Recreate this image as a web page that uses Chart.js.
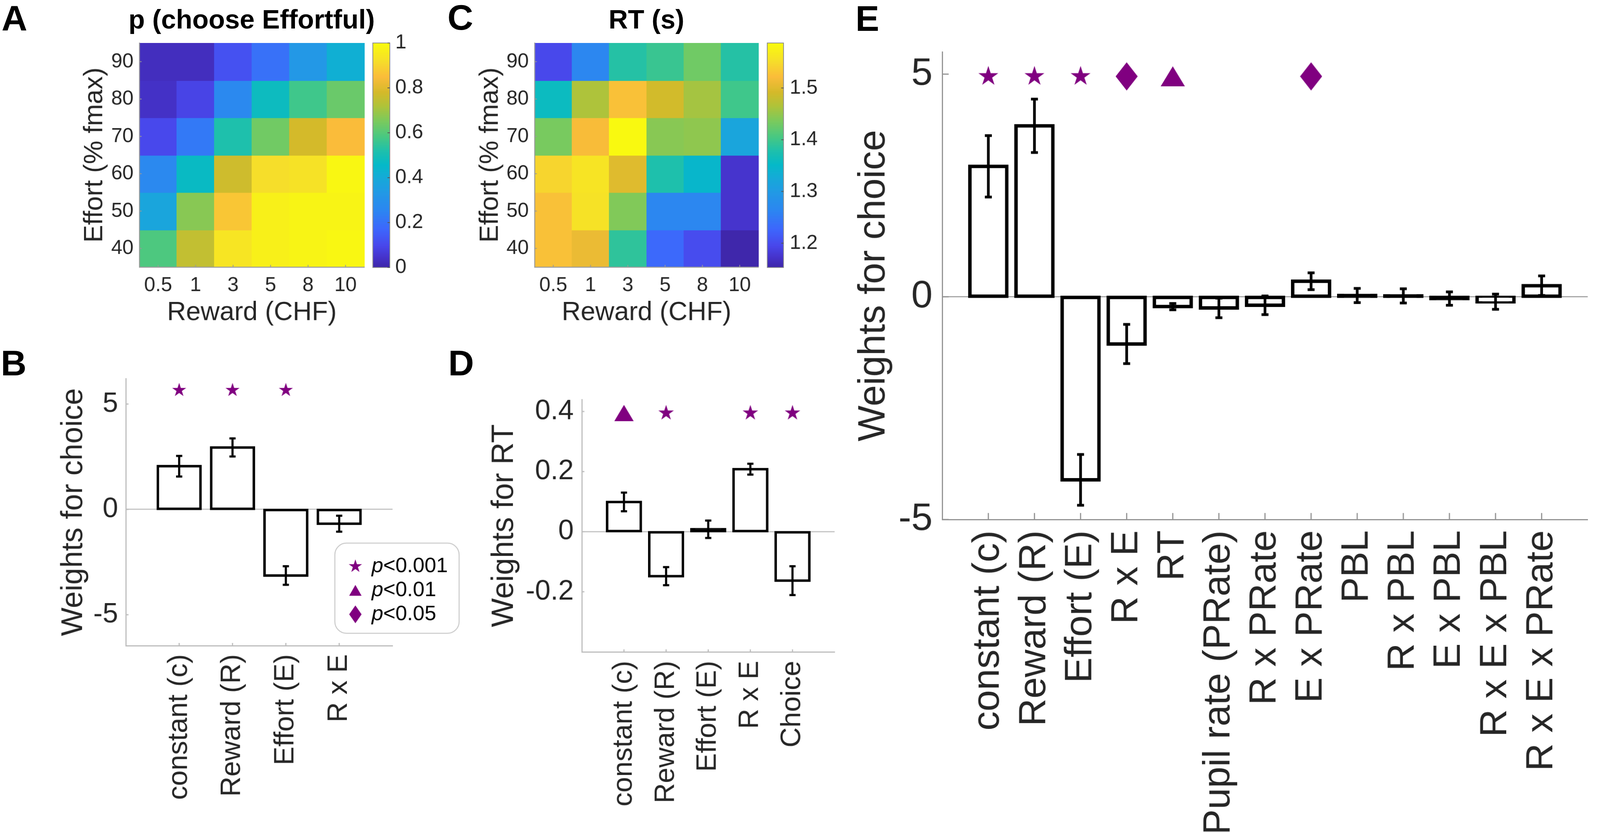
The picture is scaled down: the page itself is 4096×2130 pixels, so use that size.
<!DOCTYPE html>
<html lang="en">
<head>
<meta charset="UTF-8">
<title>Effort choice - weights and heatmaps</title>
<script src="https://cdn.jsdelivr.net/npm/chart.js"></script>
<style>
    * { margin: 0; padding: 0; box-sizing: border-box; }
    body { background: #fff; width: 4096px; height: 2130px; overflow: hidden; font-family: 'Liberation Sans', Arial, Helvetica, sans-serif; }
    /* whole figure is laid out at reference size, then shrunk to the window */
    #fig { position: relative; width: 4130px; height: 2148px; transform: scale(0.991); transform-origin: 0 0; }
    #fig canvas { position: absolute; }
    .letter { position: absolute; font-weight: bold; font-size: 92px; line-height: 1; color: #000; }
    .title { position: absolute; font-weight: bold; font-size: 69px; line-height: 1; color: #000; white-space: nowrap; transform: translateX(-50%); }
</style>
</head>
<body>
<div id="fig">
    <div class="letter" style="left:4px; top:1px;">A</div>
    <div class="letter" style="left:1156px; top:-1px;">C</div>
    <div class="letter" style="left:2px; top:892px;">B</div>
    <div class="letter" style="left:1158px; top:892px;">D</div>
    <div class="letter" style="left:2210px; top:2px;">E</div>
    <div class="title" style="left:650px; top:16px;">p (choose Effortful)</div>
    <div class="title" style="left:1670px; top:16px;">RT (s)</div>
</div>

<script>
    // ---------- data ----------
    const rewardLabels = ['0.5', '1', '3', '5', '8', '10'];
    const effortLevels = [40, 50, 60, 70, 80, 90];

    // A: p(choose effortful), one array per effort level, columns = reward
    const pChoose40 = [0.59, 0.75, 0.94, 0.97, 0.98, 0.99];
    const pChoose50 = [0.38, 0.67, 0.87, 0.97, 0.98, 0.98];
    const pChoose60 = [0.27, 0.47, 0.77, 0.92, 0.93, 0.99];
    const pChoose70 = [0.10, 0.22, 0.52, 0.64, 0.78, 0.85];
    const pChoose80 = [0.04, 0.09, 0.27, 0.48, 0.57, 0.63];
    const pChoose90 = [0.03, 0.03, 0.12, 0.20, 0.33, 0.42];
    const pRange = [0, 1];
    const pTicks = [0, 0.2, 0.4, 0.6, 0.8, 1];

    // C: RT (s)
    const rt40 = [1.526, 1.510, 1.390, 1.230, 1.200, 1.155];
    const rt50 = [1.526, 1.557, 1.440, 1.266, 1.266, 1.175];
    const rt60 = [1.544, 1.560, 1.500, 1.379, 1.348, 1.175];
    const rt70 = [1.435, 1.520, 1.585, 1.444, 1.448, 1.318];
    const rt80 = [1.360, 1.465, 1.526, 1.490, 1.460, 1.400];
    const rt90 = [1.196, 1.266, 1.383, 1.396, 1.430, 1.383];
    const rtRange = [1.153, 1.587];
    const rtTicks = [1.2, 1.3, 1.4, 1.5];

    // B: weights for choice
    const choiceLabels = ['constant (c)', 'Reward (R)', 'Effort (E)', 'R x E'];
    const choiceMean = [2.05, 2.94, -3.14, -0.68];
    const choiceSem = [0.49, 0.43, 0.44, 0.38];
    const choiceSig = ['***', '***', '***', ''];

    // D: weights for RT
    const rtLabels = ['constant (c)', 'Reward (R)', 'Effort (E)', 'R x E', 'Choice'];
    const rtMean = [0.099, -0.148, 0.008, 0.208, -0.163];
    const rtSem = [0.031, 0.030, 0.029, 0.018, 0.048];
    const rtSig = ['**', '***', '', '***', '***'];

    // E: weights for choice, full model
    const fullLabels = ['constant (c)', 'Reward (R)', 'Effort (E)', 'R x E', 'RT', 'Pupil rate (PRate)',
        'R x PRate', 'E x PRate', 'PBL', 'R x PBL', 'E x PBL', 'R x E x PBL', 'R x E x PRate'];
    const fullMean = [2.93, 3.84, -4.11, -1.06, -0.22, -0.25, -0.19, 0.35, 0.03, 0.02, -0.04, -0.11, 0.25];
    const fullSem = [0.69, 0.60, 0.57, 0.44, 0.07, 0.22, 0.21, 0.19, 0.16, 0.16, 0.15, 0.17, 0.22];
    const fullSig = ['***', '***', '***', '*', '**', '', '', '*', '', '', '', '', ''];

    const legendLevels = ['***', '**', '*'];
    const legendText = ['<0.001', '<0.01', '<0.05'];

    // ---------- styling ----------
    const FONT = "'Liberation Sans', Arial, Helvetica, sans-serif";
    Chart.defaults.font.family = FONT;
    Chart.defaults.color = '#262626';
    const purple = '#800080';

    // parula-like colour ramp
    const parulaStops = [
        [0.00, 62, 38, 168], [0.05, 70, 52, 205], [0.10, 72, 72, 236], [0.17, 62, 102, 252],
        [0.25, 45, 132, 242], [0.33, 35, 152, 230], [0.40, 22, 170, 216], [0.46, 5, 185, 200],
        [0.52, 30, 192, 172], [0.58, 70, 200, 132], [0.65, 120, 202, 95], [0.72, 175, 195, 58],
        [0.78, 212, 186, 42], [0.85, 250, 188, 58], [0.92, 246, 222, 42], [1.00, 249, 251, 14]
    ];
    function parula(t) {
        t = Math.max(0, Math.min(1, t));
        for (let i = 1; i < parulaStops.length; i++) {
            const a = parulaStops[i - 1], b = parulaStops[i];
            if (t <= b[0]) {
                const f = (t - a[0]) / (b[0] - a[0]);
                return 'rgb(' + [1, 2, 3].map(k => Math.round(a[k] + f * (b[k] - a[k]))).join(',') + ')';
            }
        }
        return 'rgb(249,251,14)';
    }

    // marker images (MATLAB-like pentagram, triangle, diamond)
    function markCanvas(w, h, draw) {
        const c = document.createElement('canvas');
        c.width = w; c.height = h;
        const g = c.getContext('2d');
        g.fillStyle = purple;
        g.beginPath();
        draw(g, w, h);
        g.closePath();
        g.fill();
        return c;
    }
    function star(R) {
        const s = Math.ceil(2 * R) + 2;
        return markCanvas(s, s, (g) => {
            for (let k = 0; k < 10; k++) {
                const r = k % 2 ? R * 0.382 : R;
                const ang = -Math.PI / 2 + k * Math.PI / 5;
                const px = s / 2 + r * Math.cos(ang), py = s / 2 + r * Math.sin(ang);
                k ? g.lineTo(px, py) : g.moveTo(px, py);
            }
        });
    }
    function triangle(w, h) {
        return markCanvas(w, h, (g) => { g.moveTo(w / 2, 0); g.lineTo(w, h); g.lineTo(0, h); });
    }
    function diamond(w, h) {
        return markCanvas(w, h, (g) => { g.moveTo(w / 2, 0); g.lineTo(w, h / 2); g.lineTo(w / 2, h); g.lineTo(0, h / 2); });
    }

    // ---------- helpers ----------
    const fig = document.getElementById('fig');
    function addCanvas(x, y, w, h) {
        const c = document.createElement('canvas');
        c.width = w; c.height = h;
        c.style.left = x + 'px'; c.style.top = y + 'px';
        c.style.width = w + 'px'; c.style.height = h + 'px';
        fig.appendChild(c);
        return c;
    }

    // small ticks pointing into the plot, like MATLAB
    function inwardTicks(color, width) {
        return {
            id: 'inwardTicks',
            afterDraw(chart) {
                const {ctx, chartArea: a, scales: {x, y}} = chart;
                const len = 0.01 * Math.max(a.right - a.left, a.bottom - a.top);
                ctx.save();
                ctx.strokeStyle = color;
                ctx.lineWidth = width;
                ctx.beginPath();
                x.ticks.forEach(t => {
                    const px = x.getPixelForValue(t.value);
                    ctx.moveTo(px, a.bottom); ctx.lineTo(px, a.bottom - len);
                });
                y.ticks.forEach(t => {
                    const py = y.getPixelForValue(t.value);
                    ctx.moveTo(a.left, py); ctx.lineTo(a.left + len, py);
                });
                ctx.stroke();
                ctx.restore();
            }
        };
    }

    const heatAxis = '#9a9a9a';
    const heatTick = 52, heatLabel = 68;

    function heatmap(canvas, rows, range, L, xTitle, yTitle) {
        const cells = [];
        rows.forEach((row, r) => row.forEach((v, c) => cells.push({x: c + 1, y: effortLevels[r], v: v})));
        const half = (effortLevels[1] - effortLevels[0]) / 2;
        const heatCells = {
            id: 'heatCells',
            beforeDatasetsDraw(chart) {
                const {ctx, scales: {x, y}} = chart;
                chart.data.datasets[0].data.forEach(p => {
                    const x0 = x.getPixelForValue(p.x - 0.5), x1 = x.getPixelForValue(p.x + 0.5);
                    const y0 = y.getPixelForValue(p.y + half), y1 = y.getPixelForValue(p.y - half);
                    ctx.fillStyle = parula((p.v - range[0]) / (range[1] - range[0]));
                    ctx.fillRect(Math.floor(x0), Math.floor(y0), Math.ceil(x1 - x0) + 1, Math.ceil(y1 - y0) + 1);
                });
            }
        };
        return new Chart(canvas, {
            type: 'scatter',
            data: { datasets: [{ data: cells, pointRadius: 0, pointHoverRadius: 0 }] },
            options: {
                responsive: false, animation: false, devicePixelRatio: 1, events: [],
                layout: { padding: L.pad },
                plugins: { legend: { display: false }, tooltip: { enabled: false } },
                scales: {
                    x: {
                        type: 'linear', min: 0.5, max: rewardLabels.length + 0.5,
                        afterBuildTicks: s => { s.ticks = rewardLabels.map((t, i) => ({ value: i + 1 })); },
                        afterFit: s => { s.height = L.xH; },
                        ticks: { callback: v => rewardLabels[v - 1], font: { size: heatTick }, padding: L.xTickPad, minRotation: 0, maxRotation: 0, autoSkip: false },
                        grid: { display: false, drawTicks: false, tickLength: 0 },
                        border: { display: true, color: heatAxis, width: 2.5, z: 1 },
                        title: { display: true, text: xTitle, font: { size: heatLabel }, padding: { top: 0, bottom: L.xTitlePad } }
                    },
                    y: {
                        type: 'linear', min: effortLevels[0] - half, max: effortLevels[effortLevels.length - 1] + half,
                        afterBuildTicks: s => { s.ticks = effortLevels.map(v => ({ value: v })); },
                        afterFit: s => { s.width = L.yW; },
                        ticks: { font: { size: heatTick }, padding: L.yTickPad },
                        grid: { display: false, drawTicks: false, tickLength: 0 },
                        border: { display: true, color: heatAxis, width: 2.5, z: 1 },
                        title: { display: true, text: yTitle, font: { size: heatLabel }, padding: { top: L.yTitlePad, bottom: 0 } }
                    }
                }
            },
            plugins: [heatCells, inwardTicks(heatAxis, 2)]
        });
    }

    function colorbar(canvas, range, ticks, L, fmt) {
        const ramp = {
            id: 'ramp',
            beforeDatasetsDraw(chart) {
                const {ctx, chartArea: a, scales: {y}} = chart;
                const n = 240;
                for (let i = 0; i < n; i++) {
                    const v0 = range[0] + (range[1] - range[0]) * i / n;
                    const v1 = range[0] + (range[1] - range[0]) * (i + 1) / n;
                    const p0 = y.getPixelForValue(v0), p1 = y.getPixelForValue(v1);
                    ctx.fillStyle = parula((i + 0.5) / n);
                    ctx.fillRect(a.left, p1, a.right - a.left, p0 - p1 + 1);
                }
                ctx.save();
                ctx.strokeStyle = '#8c8c8c';
                ctx.lineWidth = 2;
                ctx.strokeRect(a.left, a.top, a.right - a.left, a.bottom - a.top);
                ctx.strokeStyle = '#555';
                ctx.beginPath();
                y.ticks.forEach(t => {
                    const py = y.getPixelForValue(t.value);
                    ctx.moveTo(a.right, py); ctx.lineTo(a.right - 6, py);
                });
                ctx.stroke();
                ctx.restore();
            }
        };
        return new Chart(canvas, {
            type: 'scatter',
            data: { datasets: [] },
            options: {
                responsive: false, animation: false, devicePixelRatio: 1, events: [],
                layout: { padding: L.pad },
                plugins: { legend: { display: false }, tooltip: { enabled: false } },
                scales: {
                    x: { display: false, min: 0, max: 1 },
                    y: {
                        position: 'right', min: range[0], max: range[1],
                        afterBuildTicks: s => { s.ticks = ticks.map(v => ({ value: v })); },
                        afterFit: s => { s.width = L.yW; },
                        ticks: { font: { size: heatTick }, padding: L.tickPad, callback: fmt },
                        grid: { display: false, drawTicks: false, tickLength: 0 },
                        border: { display: false }
                    }
                }
            },
            plugins: [ramp]
        });
    }

    function barPanel(canvas, labels, means, sems, sig, yRange, yTicks, L, S, extraPlugins) {
        const marks = [];
        sig.forEach((s, i) => { if (s) marks.push({ x: i + 1, y: S.markY, s: s }); });
        const errorBars = {
            id: 'errorBars',
            afterDatasetsDraw(chart) {
                const {ctx, scales: {x, y}} = chart;
                ctx.save();
                ctx.strokeStyle = '#000';
                ctx.lineWidth = S.errLine;
                ctx.beginPath();
                means.forEach((m, i) => {
                    const px = x.getPixelForValue(i + 1);
                    const top = y.getPixelForValue(m + sems[i]), bot = y.getPixelForValue(m - sems[i]);
                    ctx.moveTo(px, top); ctx.lineTo(px, bot);
                    ctx.moveTo(px - S.cap, top); ctx.lineTo(px + S.cap, top);
                    ctx.moveTo(px - S.cap, bot); ctx.lineTo(px + S.cap, bot);
                });
                ctx.stroke();
                ctx.restore();
            }
        };
        return new Chart(canvas, {
            type: 'bar',
            data: {
                datasets: [
                    {
                        type: 'bar',
                        data: means.map((m, i) => ({ x: i + 1, y: m })),
                        // very short bars end up as solid black, like the thick MATLAB edge
                        backgroundColor: c => {
                            const y = c.chart.scales.y;
                            const v = c.parsed ? c.parsed.y : 1e9;
                            return Math.abs(y.getPixelForValue(v) - y.getPixelForValue(0)) < S.barLine ? '#000' : '#fff';
                        },
                        borderColor: '#000',
                        borderWidth: S.barLine,
                        borderSkipped: false,
                        inflateAmount: S.barLine / 2,
                        barPercentage: 0.8,
                        categoryPercentage: 1,
                        order: 2
                    },
                    {
                        type: 'scatter',
                        data: marks,
                        pointStyle: c => (c.raw && S.markers[c.raw.s]) || 'circle',
                        pointRadius: 10,
                        pointHoverRadius: 10,
                        clip: false,
                        order: 1
                    }
                ]
            },
            options: {
                responsive: false, animation: false, devicePixelRatio: 1, events: [],
                layout: { padding: L.pad },
                plugins: { legend: { display: false }, tooltip: { enabled: false } },
                scales: {
                    x: {
                        type: 'linear', min: 0, max: labels.length + 1, offset: false,
                        afterBuildTicks: s => { s.ticks = labels.map((t, i) => ({ value: i + 1 })); },
                        afterFit: s => { s.height = L.xH; },
                        ticks: { callback: v => labels[v - 1], font: { size: S.tick }, padding: L.xTickPad, minRotation: 90, maxRotation: 90, autoSkip: false },
                        grid: { display: false, drawTicks: false, tickLength: 0 },
                        border: { display: true, color: S.axis, width: 3 }
                    },
                    y: {
                        min: yRange[0], max: yRange[1],
                        afterBuildTicks: s => { s.ticks = yTicks.map(v => ({ value: v })); },
                        afterFit: s => { s.width = L.yW; },
                        ticks: { font: { size: S.tick }, padding: L.yTickPad, callback: v => String(v) },
                        grid: {
                            drawTicks: false, tickLength: 0, lineWidth: 3,
                            color: c => (c.tick && c.tick.value === 0) ? S.zero : 'rgba(0,0,0,0)'
                        },
                        border: { display: true, color: S.axis, width: 3 },
                        title: { display: true, text: S.yTitle, font: { size: S.label }, padding: { top: L.yTitlePad, bottom: 0 } }
                    }
                }
            },
            plugins: [errorBars, inwardTicks(S.axis, 3)].concat(extraPlugins || [])
        });
    }

    // ---------- heatmaps ----------
    heatmap(addCanvas(180, 50, 780, 810),
        [pChoose40, pChoose50, pChoose60, pChoose70, pChoose80, pChoose90], pRange,
        { pad: { left: 0, top: 61, right: 19, bottom: 0 }, yW: 180, xH: 170, yTitlePad: 24, xTitlePad: 11, yTickPad: 15, xTickPad: 16 },
        'Reward (CHF)', 'Effort (% fmax)');
    colorbar(addCanvas(955, 50, 200, 701), pRange, pTicks,
        { pad: { left: 8, top: 61, right: 0, bottom: 60 }, yW: 148, tickPad: 14 }, v => String(v));

    heatmap(addCanvas(1200, 50, 780, 810),
        [rt40, rt50, rt60, rt70, rt80, rt90], rtRange,
        { pad: { left: 0, top: 61, right: 21, bottom: 0 }, yW: 181, xH: 170, yTitlePad: 26, xTitlePad: 11, yTickPad: 15, xTickPad: 16 },
        'Reward (CHF)', 'Effort (% fmax)');
    colorbar(addCanvas(1974, 50, 200, 701), rtRange, rtTicks,
        { pad: { left: 8, top: 61, right: 0, bottom: 60 }, yW: 150, tickPad: 16 }, v => v.toFixed(1));

    // ---------- B ----------
    const legendMarks = { '***': star(18), '**': triangle(32, 28), '*': diamond(32, 46) };
    const sigLegend = {
        id: 'sigLegend',
        afterDraw(chart) {
            const {ctx, chartArea: a} = chart;
            const bx = a.right - 149, by = a.top + 425, bw = 321, bh = 233;
            ctx.save();
            ctx.beginPath();
            ctx.roundRect(bx, by, bw, bh, 30);
            ctx.fillStyle = '#fff';
            ctx.fill();
            ctx.strokeStyle = '#c8c8c8';
            ctx.lineWidth = 2.5;
            ctx.stroke();
            ctx.textBaseline = 'middle';
            ctx.fillStyle = '#000';
            legendLevels.forEach((lev, i) => {
                const cy = by + 60 + i * 62;
                const m = legendMarks[lev];
                ctx.drawImage(m, bx + 53 - m.width / 2, cy - m.height / 2);
                ctx.font = 'italic 54px ' + FONT;
                ctx.fillText('p', bx + 95, cy);
                const w = ctx.measureText('p').width;
                ctx.font = '54px ' + FONT;
                ctx.fillText(legendText[i], bx + 95 + w, cy);
            });
            ctx.restore();
        }
    };
    barPanel(addCanvas(120, 900, 1080, 1220), choiceLabels, choiceMean, choiceSem, choiceSig,
        [-6.47, 6.21], [-5, 0, 5],
        { pad: { left: 0, top: 78, right: 186, bottom: 0 }, yW: 205, xH: 452, yTitlePad: 24, yTickPad: 20, xTickPad: 22 },
        { tick: 72, label: 78, yTitle: 'Weights for choice', axis: '#bdbdbd', zero: '#c4c4c4',
          barLine: 6.5, errLine: 5.5, cap: 8, markY: 5.66, markers: { '***': star(19) } },
        [sigLegend]);

    // ---------- D ----------
    barPanel(addCanvas(1230, 960, 950, 1160), rtLabels, rtMean, rtSem, rtSig,
        [-0.4, 0.44], [-0.2, 0, 0.2, 0.4],
        { pad: { left: 0, top: 72, right: 24, bottom: 0 }, yW: 273, xH: 436, yTitlePad: 26, yTickPad: 21, xTickPad: 23 },
        { tick: 72, label: 79, yTitle: 'Weights for RT', axis: '#bdbdbd', zero: '#c4c4c4',
          barLine: 6.5, errLine: 5.5, cap: 8, markY: 0.395, markers: { '***': star(21), '**': triangle(50, 42) } });

    // ---------- E ----------
    barPanel(addCanvas(2190, 30, 1940, 2118), fullLabels, fullMean, fullSem, fullSig,
        [-5, 5.5], [-5, 0, 5],
        { pad: { left: 0, top: 104, right: 8, bottom: 0 }, yW: 244, xH: 806, yTitlePad: 9, yTickPad: 25, xTickPad: 28 },
        { tick: 99, label: 98, yTitle: 'Weights for choice', axis: '#939393', zero: '#a6a6a6',
          barLine: 9, errLine: 7, cap: 9, markY: 4.95,
          markers: { '***': star(27), '**': triangle(63, 52), '*': diamond(57, 73) } });
</script>
</body>
</html>
